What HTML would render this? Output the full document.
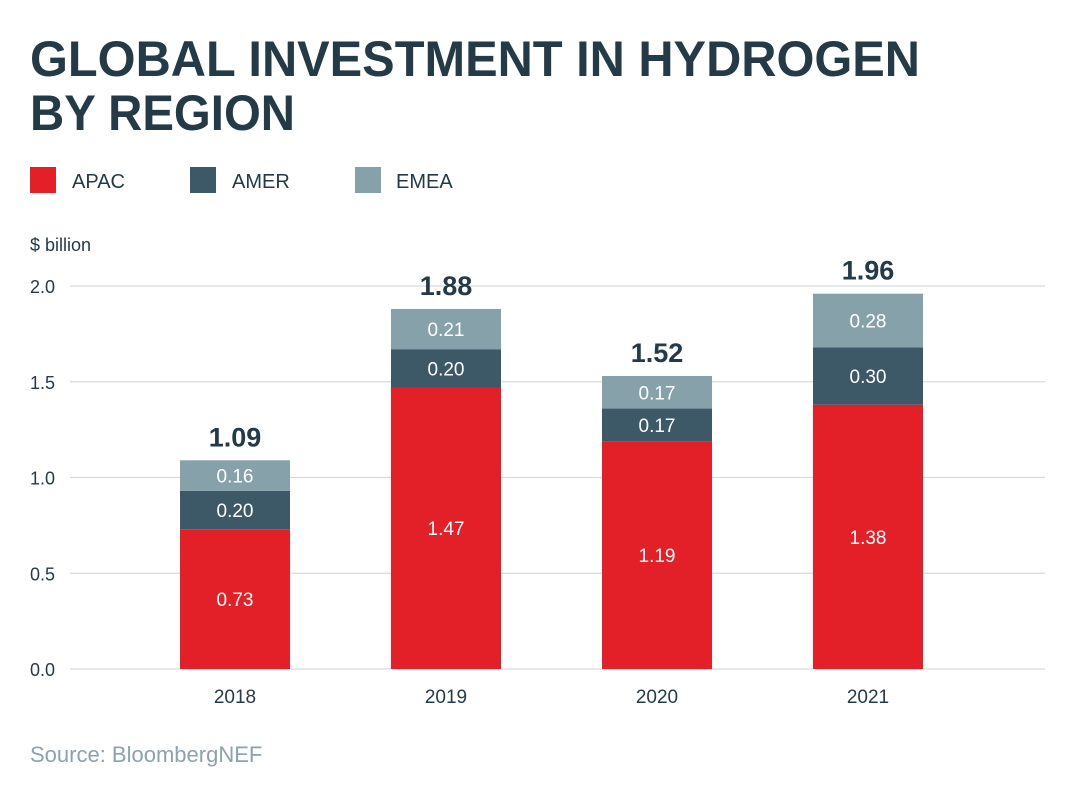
<!DOCTYPE html>
<html><head><meta charset="utf-8"><style>
html,body{margin:0;padding:0;background:#fff;}
svg{display:block;font-family:"Liberation Sans",sans-serif;}
</style></head><body>
<svg id="chart" width="1080" height="800" viewBox="0 0 1080 800">
<text x="30" y="76" font-size="50" font-weight="bold" fill="#243b47" textLength="890" lengthAdjust="spacingAndGlyphs">GLOBAL INVESTMENT IN HYDROGEN</text>
<text x="30" y="130" font-size="50" font-weight="bold" fill="#243b47" textLength="265" lengthAdjust="spacingAndGlyphs">BY REGION</text>
<g>
<rect x="30" y="167" width="26" height="26" fill="#e32028"/>
<text x="72" y="188" font-size="20" fill="#243b47">APAC</text>
<rect x="190" y="167" width="26" height="26" fill="#3d5866"/>
<text x="232" y="188" font-size="20" fill="#243b47">AMER</text>
<rect x="355" y="167" width="26" height="26" fill="#87a1aa"/>
<text x="396" y="188" font-size="20" fill="#243b47">EMEA</text>
</g>
<text x="30" y="251" font-size="18" fill="#243b47">$ billion</text>
<g id="grid"></g>
<g id="bars"></g>
<text x="30" y="762" font-size="22" fill="#8aa3ad">Source: BloombergNEF</text>
</svg>
<script>
const categories = ["2018","2019","2020","2021"];
const apac = [0.73,1.47,1.19,1.38];
const amer = [0.20,0.20,0.17,0.30];
const emea = [0.16,0.21,0.17,0.28];
const totals = ["1.09","1.88","1.52","1.96"];
const yTicks = [0,0.5,1.0,1.5,2.0];
const yTickLabels = ["0.0","0.5","1.0","1.5","2.0"];

const NS="http://www.w3.org/2000/svg";
const y = v => 669 - v*191.5;
const xc = i => 235 + i*211;
const BW = 110;
function mk(tag, attrs, parent, txt){
  const e=document.createElementNS(NS,tag);
  for(const k in attrs) e.setAttribute(k,attrs[k]);
  if(txt!==undefined) e.textContent=txt;
  parent.appendChild(e); return e;
}
const grid=document.getElementById('grid');
yTicks.forEach((t,i)=>{
  const l=mk('line',{x1:70,x2:1045,y1:y(t),y2:y(t),stroke:'#d5dcdf','stroke-width':1.2},grid);
  
  
  const tx=mk('text',{x:30,y:y(t)+7,'font-size':18,fill:'#243b47'},grid,yTickLabels[i]);
  
  
});
const bars=document.getElementById('bars');
categories.forEach((c,i)=>{
  const segs=[[apac[i],'#e32028','apac'],[amer[i],'#3d5866','amer'],[emea[i],'#87a1aa','emea']];
  let base=0;
  segs.forEach(([v,col,nm])=>{
    const r=mk('rect',{x:xc(i)-BW/2,y:y(base+v),width:BW,height:y(base)-y(base+v),fill:col},bars);
    
    
    const t=mk('text',{x:xc(i),y:(y(base)+y(base+v))/2+7,'font-size':19,fill:'#fff','text-anchor':'middle'},bars,v.toFixed(2));
    
    
    base+=v;
  });
  const tt=mk('text',{x:xc(i),y:y(base)-14,'font-size':27,'font-weight':'bold',fill:'#243b47','text-anchor':'middle'},bars,totals[i]);
  
  
  const xl=mk('text',{x:xc(i),y:703,'font-size':19,fill:'#243b47','text-anchor':'middle'},bars,c);
  
  
});
</script>
</body></html>
